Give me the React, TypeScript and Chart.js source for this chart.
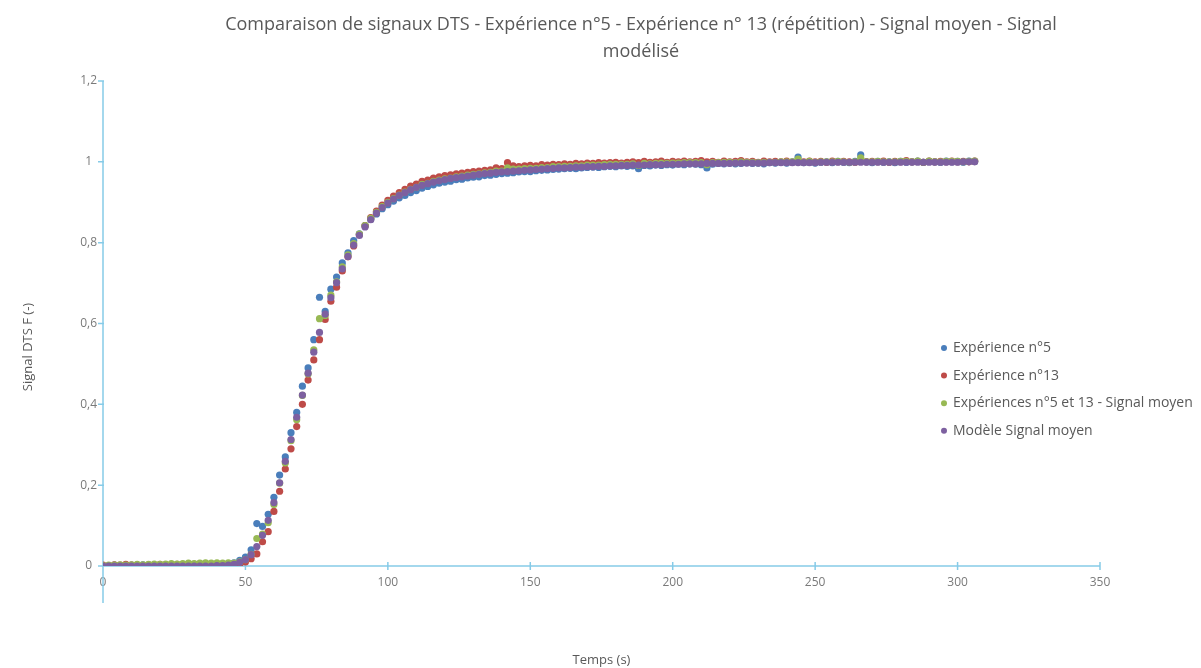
import React, { useEffect, useRef } from "react";
import { Chart, registerables } from "chart.js";

Chart.register(...registerables);

const FONT = "'Open Sans', 'DejaVu Sans', sans-serif";
const TEXT_COLOR = "#595959";
const TICK_COLOR = "#7a7a7a";
const AXIS_COLOR = "#86cbe8";

const titleLines = [
  "Comparaison de signaux DTS - Expérience n°5 - Expérience n° 13 (répétition) - Signal moyen - Signal",
  "modélisé",
];
const xAxisTitle = "Temps (s)";
const yAxisTitle = "Signal DTS F (-)";

const seriesLabels = [
  "Expérience n°5",
  "Expérience n°13",
  "Expériences n°5 et 13 - Signal moyen",
  "Modèle Signal moyen",
];
const seriesColors = ["#4a7ebb", "#be4b48", "#98b954", "#7d60a0"];

const xMin = 0;
const xMax = 350;
const xStep = 50;
const yMin = 0;
const yMax = 1.2;
const yStep = 0.2;

// Time (s)
const times = [
  0, 2, 4, 6, 8, 10, 12, 14, 16, 18,
  20, 22, 24, 26, 28, 30, 32, 34, 36, 38,
  40, 42, 44, 46, 48, 50, 52, 54, 56, 58,
  60, 62, 64, 66, 68, 70, 72, 74, 76, 78,
  80, 82, 84, 86, 88, 90, 92, 94, 96, 98,
  100, 102, 104, 106, 108, 110, 112, 114, 116, 118,
  120, 122, 124, 126, 128, 130, 132, 134, 136, 138,
  140, 142, 144, 146, 148, 150, 152, 154, 156, 158,
  160, 162, 164, 166, 168, 170, 172, 174, 176, 178,
  180, 182, 184, 186, 188, 190, 192, 194, 196, 198,
  200, 202, 204, 206, 208, 210, 212, 214, 216, 218,
  220, 222, 224, 226, 228, 230, 232, 234, 236, 238,
  240, 242, 244, 246, 248, 250, 252, 254, 256, 258,
  260, 262, 264, 266, 268, 270, 272, 274, 276, 278,
  280, 282, 284, 286, 288, 290, 292, 294, 296, 298,
  300, 302, 304, 306,
];

// Expérience n°5
const exp5 = [
  0.001, 0, 0.002, 0.001, 0, 0.002, 0.001, 0.003, 0.001, 0.002,
  0.002, 0.001, 0.003, 0.002, 0.001, 0.003, 0.002, 0.002, 0.003, 0.002,
  0.003, 0.002, 0.004, 0.008, 0.014, 0.022, 0.04, 0.105, 0.098, 0.128,
  0.17, 0.225, 0.27, 0.33, 0.38, 0.445, 0.49, 0.56, 0.665, 0.63,
  0.685, 0.715, 0.75, 0.775, 0.805, 0.822, 0.842, 0.858, 0.871, 0.884,
  0.894, 0.903, 0.911, 0.917, 0.924, 0.929, 0.935, 0.939, 0.943, 0.947,
  0.95, 0.952, 0.956, 0.957, 0.96, 0.962, 0.963, 0.966, 0.967, 0.969,
  0.971, 0.972, 0.973, 0.975, 0.976, 0.976, 0.978, 0.979, 0.98, 0.981,
  0.982, 0.983, 0.984, 0.983, 0.985, 0.986, 0.987, 0.986, 0.988, 0.989,
  0.988, 0.99, 0.989, 0.99, 0.983, 0.991, 0.99, 0.992, 0.991, 0.993,
  0.992, 0.994, 0.993, 0.995, 0.994, 0.993, 0.985, 0.994, 0.996, 0.995,
  0.997, 0.995, 0.996, 0.998, 0.996, 0.997, 0.995, 0.998, 0.997, 0.999,
  0.997, 1, 1.012, 0.998, 0.999, 0.997, 0.999, 1, 0.998, 1.001,
  0.999, 0.998, 1.001, 1.017, 1, 0.998, 1.001, 0.999, 1, 0.998,
  1.001, 0.999, 1, 1.002, 0.999, 1.001, 1, 0.999, 1.002, 1,
  1.001, 0.999, 1.002, 1.001,
];

// Expérience n°13
const exp13 = [
  0.002, 0.001, 0.003, 0.002, 0.004, 0.002, 0.003, 0.001, 0.003, 0.002,
  0.004, 0.003, 0.002, 0.004, 0.003, 0.002, 0.004, 0.003, 0.002, 0.003,
  0.002, 0.003, 0.002, 0.003, 0.005, 0.01, 0.018, 0.03, 0.06, 0.085,
  0.135, 0.185, 0.24, 0.29, 0.345, 0.4, 0.46, 0.51, 0.56, 0.61,
  0.655, 0.69, 0.73, 0.765, 0.792, 0.82, 0.842, 0.862, 0.878, 0.893,
  0.905, 0.915, 0.924, 0.932, 0.94, 0.945, 0.952, 0.955, 0.96, 0.963,
  0.966, 0.968, 0.97, 0.972, 0.974, 0.976, 0.977, 0.979, 0.98, 0.985,
  0.983, 0.998, 0.99, 0.988, 0.99, 0.991, 0.99, 0.993, 0.992, 0.994,
  0.993, 0.995, 0.994, 0.996, 0.995, 0.997, 0.996, 0.998, 0.997, 0.998,
  0.999, 0.997, 0.999, 1, 0.998, 1.001, 0.999, 1, 1.002, 0.999,
  1.001, 1, 1.002, 1, 1.001, 1.003, 1, 1.001, 0.999, 1.002,
  1, 1.001, 1.003, 1, 1.001, 0.999, 1.002, 1, 1.001, 1,
  1.002, 0.999, 1.001, 1, 1.002, 1, 1.001, 0.999, 1.002, 1,
  1.001, 1, 0.999, 1.002, 1, 1.001, 1, 1.002, 0.999, 1.001,
  1, 1.003, 1, 1.001, 0.999, 1.002, 1, 1.001, 1, 1.002,
  1, 1.001, 1, 1.002,
];

// Expériences n°5 et 13 - Signal moyen
const meanSignal = [
  0.001, 0.002, 0.002, 0.003, 0.002, 0.003, 0.004, 0.003, 0.004, 0.005,
  0.004, 0.005, 0.006, 0.005, 0.006, 0.007, 0.006, 0.007, 0.008, 0.007,
  0.008, 0.007, 0.008, 0.007, 0.01, 0.016, 0.029, 0.068, 0.079, 0.107,
  0.152, 0.205, 0.255, 0.31, 0.362, 0.422, 0.475, 0.535, 0.612, 0.62,
  0.67, 0.703, 0.74, 0.77, 0.798, 0.821, 0.842, 0.86, 0.875, 0.889,
  0.9, 0.909, 0.918, 0.925, 0.932, 0.937, 0.944, 0.947, 0.952, 0.955,
  0.958, 0.96, 0.963, 0.965, 0.967, 0.969, 0.97, 0.973, 0.974, 0.977,
  0.977, 0.985, 0.982, 0.982, 0.983, 0.984, 0.984, 0.986, 0.986, 0.988,
  0.988, 0.989, 0.989, 0.99, 0.99, 0.992, 0.992, 0.992, 0.993, 0.994,
  0.994, 0.994, 0.994, 0.995, 0.991, 0.996, 0.995, 0.996, 0.997, 0.996,
  0.997, 0.997, 0.998, 0.998, 0.998, 0.998, 0.993, 0.998, 0.998, 0.999,
  0.999, 0.998, 1, 0.999, 0.999, 0.998, 0.999, 0.999, 0.999, 1,
  1, 1, 1.007, 0.999, 1.001, 0.999, 1, 1, 1, 1.001,
  1, 0.999, 1, 1.01, 1, 1, 1.001, 1, 1, 1,
  1.001, 1.001, 1, 1.002, 0.999, 1.002, 1, 1, 1.001, 1.001,
  1.001, 1, 1.001, 1.002,
];

// Modèle Signal moyen
const modelSignal = [
  0, 0, 0, 0, 0, 0, 0, 0, 0, 0,
  0, 0, 0, 0, 0, 0, 0, 0, 0, 0,
  0.001, 0.001, 0.002, 0.004, 0.009, 0.016, 0.028, 0.048, 0.076, 0.113,
  0.157, 0.206, 0.259, 0.313, 0.368, 0.423, 0.477, 0.529, 0.578, 0.623,
  0.664, 0.701, 0.735, 0.766, 0.794, 0.818, 0.839, 0.857, 0.873, 0.887,
  0.898, 0.908, 0.917, 0.924, 0.931, 0.937, 0.942, 0.946, 0.95, 0.953,
  0.956, 0.959, 0.961, 0.963, 0.965, 0.967, 0.969, 0.971, 0.972, 0.974,
  0.975, 0.976, 0.977, 0.978, 0.979, 0.98, 0.981, 0.982, 0.983, 0.984,
  0.985, 0.985, 0.986, 0.987, 0.987, 0.988, 0.988, 0.989, 0.989, 0.99,
  0.99, 0.991, 0.991, 0.992, 0.992, 0.992, 0.993, 0.993, 0.993, 0.994,
  0.994, 0.994, 0.995, 0.995, 0.995, 0.995, 0.996, 0.996, 0.996, 0.996,
  0.996, 0.997, 0.997, 0.997, 0.997, 0.997, 0.997, 0.998, 0.998, 0.998,
  0.998, 0.998, 0.998, 0.998, 0.998, 0.998, 0.999, 0.999, 0.999, 0.999,
  0.999, 0.999, 0.999, 0.999, 0.999, 0.999, 0.999, 0.999, 0.999, 0.999,
  0.999, 0.999, 0.999, 0.999, 0.999, 0.999, 0.999, 0.999, 0.999, 0.999,
  0.999, 1, 1, 1,
];

const seriesValues = [exp5, exp13, meanSignal, modelSignal];
// lower order = drawn last (on top)
const seriesOrder = [4, 3, 2, 1];

const TITLE_X = 641;
const TITLE_Y = 25;
const TITLE_LINE = 27;
const Y_TITLE_X = 28;
const Y_TITLE_Y = 347;
const LEGEND_X = 944;
const LEGEND_Y = 348;
const LEGEND_GAP = 27.6;

const excelAxesPlugin = {
  id: "excelAxes",
  beforeDatasetsDraw(chart: any) {
    const { ctx, chartArea, scales } = chart;
    const xs = scales.x;
    const ys = scales.y;
    const x0 = xs.getPixelForValue(0);
    const y0 = ys.getPixelForValue(0);
    ctx.save();
    ctx.strokeStyle = AXIS_COLOR;
    ctx.lineWidth = 1.5;
    ctx.beginPath();
    ctx.moveTo(x0, chartArea.top);
    ctx.lineTo(x0, chartArea.bottom + 37);
    ctx.moveTo(x0, y0);
    ctx.lineTo(chartArea.right, y0);
    for (const t of xs.ticks) {
      const px = xs.getPixelForValue(t.value);
      ctx.moveTo(px, y0 - 4);
      ctx.lineTo(px, y0 + 4);
    }
    for (const t of ys.ticks) {
      const py = ys.getPixelForValue(t.value);
      ctx.moveTo(x0 - 5, py);
      ctx.lineTo(x0 + 1, py);
    }
    ctx.stroke();
    ctx.restore();
  },
  afterDraw(chart: any) {
    const { ctx } = chart;
    ctx.save();
    // chart title
    ctx.font = `18px ${FONT}`;
    ctx.fillStyle = TEXT_COLOR;
    ctx.textAlign = "center";
    ctx.textBaseline = "middle";
    titleLines.forEach((line, i) => ctx.fillText(line, TITLE_X, TITLE_Y + i * TITLE_LINE));
    // vertical axis title
    ctx.save();
    ctx.translate(Y_TITLE_X, Y_TITLE_Y);
    ctx.rotate(-Math.PI / 2);
    ctx.font = `13px ${FONT}`;
    ctx.fillText(yAxisTitle, 0, 0);
    ctx.restore();
    // legend
    ctx.font = `14px ${FONT}`;
    ctx.textAlign = "left";
    chart.data.datasets.forEach((ds: any, i: number) => {
      const yy = LEGEND_Y + i * LEGEND_GAP;
      ctx.fillStyle = ds.backgroundColor;
      ctx.beginPath();
      ctx.arc(LEGEND_X, yy, 3, 0, Math.PI * 2);
      ctx.fill();
      ctx.fillStyle = TEXT_COLOR;
      ctx.fillText(ds.label, LEGEND_X + 9, yy);
    });
    ctx.restore();
  },
};

export default function App() {
  const canvasRef = useRef<HTMLCanvasElement | null>(null);

  useEffect(() => {
    if (!canvasRef.current) return;
    const datasets = seriesLabels.map((label, s) => ({
      label,
      data: times.map((t, i) => ({ x: t, y: seriesValues[s][i] })),
      backgroundColor: seriesColors[s],
      borderColor: seriesColors[s],
      borderWidth: 0,
      pointRadius: 3.6,
      pointHoverRadius: 3.6,
      showLine: false,
      order: seriesOrder[s],
    }));

    const chart = new Chart(canvasRef.current, {
      type: "scatter",
      data: { datasets },
      plugins: [excelAxesPlugin],
      options: {
        responsive: false,
        animation: false,
        events: [],
        layout: { padding: { left: 0, right: 101, top: 81, bottom: 0 } },
        plugins: {
          legend: { display: false },
          tooltip: { enabled: false },
          title: { display: false },
        },
        scales: {
          x: {
            type: "linear",
            min: xMin,
            max: xMax,
            grid: { display: false, drawTicks: false },
            border: { display: false },
            ticks: {
              stepSize: xStep,
              autoSkip: false,
              maxRotation: 0,
              padding: 9,
              color: TICK_COLOR,
              font: { family: FONT, size: 12 },
            },
            title: {
              display: true,
              text: xAxisTitle,
              color: TEXT_COLOR,
              font: { family: FONT, size: 13 },
              padding: { top: 0, bottom: 0 },
            },
            afterFit: (scale: any) => {
              scale.height = 102;
            },
          },
          y: {
            type: "linear",
            min: yMin,
            max: yMax,
            grid: { display: false, drawTicks: false },
            border: { display: false },
            ticks: {
              stepSize: yStep,
              autoSkip: false,
              padding: 6,
              crossAlign: "center",
              color: TICK_COLOR,
              font: { family: FONT, size: 12 },
              callback: (v: any) => String(Math.round(Number(v) * 10) / 10).replace(".", ","),
            },
            afterFit: (scale: any) => {
              scale.width = 103;
            },
          },
        },
      },
    } as any);

    return () => chart.destroy();
  }, []);

  return (
    <div style={{ position: "absolute", left: 0, top: 0, width: 1201, height: 668, background: "#ffffff" }}>
      <canvas ref={canvasRef} width={1201} height={668} style={{ display: "block" }} />
    </div>
  );
}
